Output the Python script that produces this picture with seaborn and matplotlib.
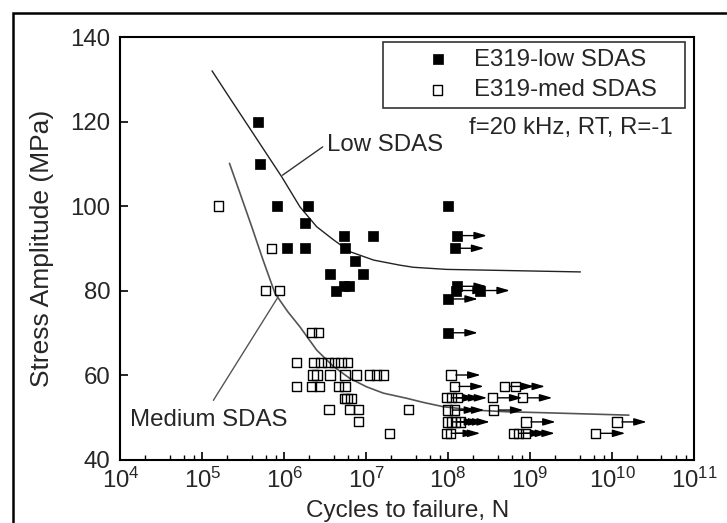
import numpy as np
import pandas as pd
import matplotlib
matplotlib.use("Agg")
import matplotlib.pyplot as plt
import matplotlib.ticker as mticker
from matplotlib.patches import Rectangle
import seaborn as sns

# ---------------- data ----------------
# E319-low SDAS (failed specimens)
low_N = [4.8e5, 5.1e5, 8.1e5, 1.95e6, 1.8e6, 1.09e6, 1.8e6, 5.35e6, 1.21e7,
         5.56e6, 7.2e6, 3.6e6, 9.2e6, 4.3e6, 5.35e6, 6.1e6, 1.0e8]
low_S = [120, 110, 100, 100, 96, 90, 90, 93, 93,
         90, 87, 84, 84, 80, 81, 81, 100]
# E319-low SDAS run-outs (arrows)
low_run_N = [1.29e8, 1.2e8, 1.29e8, 1.25e8, 2.46e8, 1.0e8, 1.0e8]
low_run_S = [93, 90, 81, 80, 80, 78, 70]

# E319-med SDAS (failed specimens)
med_N = [1.58e5, 7.0e5, 5.9e5, 8.7e5, 2.16e6, 2.6e6,
         1.42e6, 2.3e6, 2.8e6, 3.4e6, 4.1e6, 4.9e6, 5.9e6,
         2.24e6, 2.5e6, 3.6e6, 5.5e6, 7.6e6, 1.1e7, 1.32e7, 1.62e7,
         1.42e6, 2.16e6, 2.7e6, 4.6e6, 5.5e6,
         5.4e6, 5.8e6, 6.5e6,
         3.5e6, 6.3e6, 8.0e6, 3.3e7,
         8.0e6,
         1.9e7]
med_S = [100, 90, 80, 80, 70, 70,
         63, 63, 63, 63, 63, 63, 63,
         60, 60, 60, 60, 60, 60, 60, 60,
         57.2, 57.2, 57.2, 57.2, 57.2,
         54.5, 54.5, 54.5,
         51.9, 51.9, 51.9, 51.9,
         49.0,
         46.2]
# E319-med SDAS run-outs (arrows)
med_run_N = [1.08e8, 1.18e8, 4.9e8, 6.6e8,
             9.5e7, 1.1e8, 1.3e8, 3.5e8, 8.1e8,
             9.8e7, 1.2e8, 3.6e8,
             9.8e7, 1.1e8, 1.23e8, 1.4e8, 8.9e8, 1.15e10,
             9.5e7, 1.07e8, 6.3e8, 7.2e8, 8.7e8, 6.3e9]
med_run_S = [60, 57.3, 57.3, 57.3,
             54.6, 54.6, 54.6, 54.6, 54.6,
             51.7, 51.7, 51.7,
             48.9, 48.9, 48.9, 48.9, 48.9, 48.9,
             46.2, 46.2, 46.2, 46.2, 46.2, 46.2]

# fitted curves
low_curve_N = [1.31e5, 2.07e5, 9.3e5, 1.55e6, 2.48e6, 3.98e6, 6.3e6,
               1.23e7, 2.57e7, 3.76e7, 9.5e7, 6.3e8, 4.1e9]
low_curve_S = [132.0, 126.1, 106.9, 99.8, 95.1, 92.0, 89.2,
               87.2, 86.0, 85.5, 85.0, 84.7, 84.4]
med_curve_N = [2.14e5, 2.88e5, 4.0e5, 5.5e5, 7.7e5, 1.1e6, 1.55e6, 2.48e6,
               3.98e6, 6.3e6, 1.01e7, 1.62e7, 3.1e7, 5.0e7, 8.7e7, 2.04e8,
               5.2e8, 1.32e9, 1.6e10]
med_curve_S = [110.1, 103.0, 95.1, 87.2, 79.3, 75.0, 71.4, 65.9,
               62.0, 59.2, 57.2, 55.7, 54.5, 53.5, 52.5, 51.7,
               51.3, 51.1, 50.5]

legend_labels = ["E319-low SDAS", "E319-med SDAS"]
x_ticks = [1e4, 1e5, 1e6, 1e7, 1e8, 1e9, 1e10, 1e11]
y_ticks = [40, 60, 80, 100, 120, 140]

# ---------------- style ----------------
sns.set_style("white")
plt.rcParams["font.family"] = ["Liberation Sans", "DejaVu Sans"]
plt.rcParams["mathtext.fontset"] = "custom"
plt.rcParams["mathtext.rm"] = "Liberation Sans"
plt.rcParams["mathtext.it"] = "Liberation Sans:italic"
plt.rcParams["mathtext.default"] = "regular"

FS = 17.3

fig = plt.figure(figsize=(7.27, 5.23), dpi=100)
ax = fig.add_axes([0.1657, 0.1214, 0.789, 0.8078])
ax.set_xscale("log")

# outer frame of the figure
fig.patches.append(Rectangle((13 / 727, -0.1), 1.2, 1 - 13 / 523 + 0.1,
                             transform=fig.transFigure, fill=False,
                             edgecolor="black", linewidth=1.8))

# curves
sns.lineplot(x=low_curve_N, y=low_curve_S, sort=False, estimator=None,
             color="#222222", linewidth=1.0, ax=ax, legend=False)
sns.lineplot(x=med_curve_N, y=med_curve_S, sort=False, estimator=None,
             color="#555555", linewidth=1.2, ax=ax, legend=False)
# leader lines of the curve labels
sns.lineplot(x=[2.94e6, 9.5e5], y=[114.0, 107.3], sort=False, estimator=None,
             color="#333333", linewidth=1.0, ax=ax, legend=False)
sns.lineplot(x=[1.36e5, 8.4e5], y=[54.0, 78.5], sort=False, estimator=None,
             color="#555555", linewidth=1.0, ax=ax, legend=False)

# run-out arrows
arrow_factor = 2.3
for n, s in list(zip(low_run_N, low_run_S)) + list(zip(med_run_N, med_run_S)):
    ax.annotate("", xy=(n * arrow_factor, s), xytext=(n, s),
                arrowprops=dict(arrowstyle="-|>,head_length=0.75,head_width=0.22",
                                color="black", lw=1.0, shrinkA=3.5, shrinkB=0,
                                mutation_scale=10))

# points
sns.scatterplot(x=low_N + low_run_N, y=low_S + low_run_S, marker="s", s=44,
                color="black", edgecolor="black", linewidth=0.5,
                label=legend_labels[0], ax=ax, zorder=3)
sns.scatterplot(x=med_N + med_run_N, y=med_S + med_run_S, marker="s", s=44,
                facecolors="none", edgecolor="black", linewidth=1.0,
                label=legend_labels[1], ax=ax, zorder=3)

# axes
ax.set_xlim(1e4, 1e11)
ax.set_ylim(40, 140)
ax.set_xticks(x_ticks)
ax.xaxis.set_major_formatter(mticker.LogFormatterMathtext())
ax.xaxis.set_minor_locator(mticker.LogLocator(base=10, subs=(2, 4, 6, 8), numticks=20))
ax.xaxis.set_minor_formatter(mticker.NullFormatter())
ax.set_yticks(y_ticks)
ax.tick_params(axis="both", which="major", direction="in", length=6, width=1.2,
               labelsize=FS, bottom=True, left=True, top=False, right=False, color="black")
ax.tick_params(axis="x", which="minor", direction="in", length=3.5, width=1.0,
               bottom=True, top=False, color="black")
ax.tick_params(axis="x", which="major", pad=6)
ax.tick_params(axis="y", which="major", pad=7)
for sp in ax.spines.values():
    sp.set_linewidth(1.5)
    sp.set_color("black")

ax.set_xlabel("Cycles to failure, N", fontsize=17.5, labelpad=5)
ax.set_ylabel("Stress Amplitude (MPa)", fontsize=19, labelpad=12)

# annotations
ax.text(1.8e8, 118.5, "f=20 kHz, RT, R=-1", fontsize=FS, va="center", ha="left")
ax.text(3.3e6, 114.4, "Low SDAS", fontsize=FS, va="center", ha="left")
ax.text(1.3e4, 49.3, "Medium SDAS", fontsize=FS, va="center", ha="left")

# legend (created last so that nothing replaces it)
leg = ax.legend(loc="upper left", bbox_to_anchor=(0.458, 0.834, 0.526, 0.154),
                mode="expand", frameon=True, fancybox=False, fontsize=FS,
                borderpad=0.27, handlelength=4.0, handletextpad=-0.5,
                labelspacing=0.36, borderaxespad=0)
leg.get_frame().set_edgecolor("black")
leg.get_frame().set_linewidth(1.2)

fig.savefig("out.png", dpi=100)
